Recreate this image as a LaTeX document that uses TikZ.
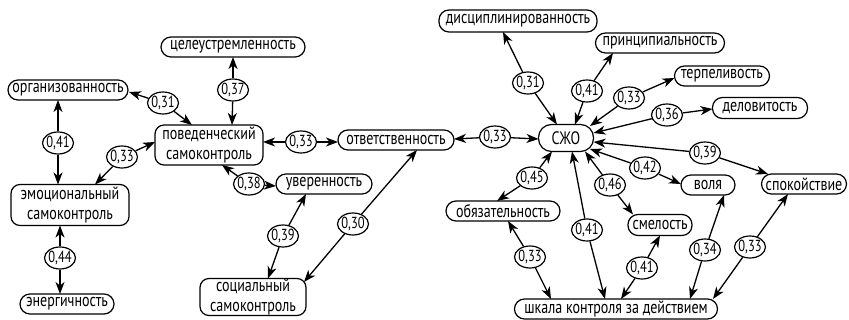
\documentclass[tikz,border=0pt]{standalone}
\usepackage{fontspec}
\setmainfont[FakeStretch=0.78]{PT Sans}
\usetikzlibrary{shapes.geometric,arrows.meta,calc}
\tikzset{
  box/.style={draw, line width=1.2pt, rectangle, rounded corners=10pt, inner sep=0pt,
    minimum height=20pt, align=center, font=\fontsize{18}{20}\selectfont},
  box2/.style={box, rounded corners=9pt},
  lab/.style={draw, line width=1.2pt, ellipse, inner sep=-2pt, minimum width=31pt,
    minimum height=22pt, font=\fontsize{16}{16}\selectfont},
  arr/.style={line width=1.3pt, -{Stealth[length=12pt,width=9pt,inset=3.5pt]}}
}
\newcommand\lnk[4]{\draw[arr] (#1) -- ($(#2)+(#3,#4)$);}
\begin{document}
\begin{tikzpicture}[x=1pt,y=-1pt]
\useasboundingbox (0,0) rectangle (849,320);
% boxes
\node[box, minimum width=144pt] (cel) at (233,47) {целеустремленность};
\node[box, minimum width=120pt] (org) at (68,90) {организованность};
\node[box2, minimum width=108pt, minimum height=40pt] (poved) at (209,145) {поведенческий\\самоконтроль};
\node[box, minimum width=116pt] (otv) at (396,140) {ответственность};
\node[box2, minimum width=118pt, minimum height=41pt] (emo) at (70,205) {эмоциональный\\самоконтроль};
\node[box, minimum width=94pt] (energ) at (67,304) {энергичность};
\node[box, minimum width=96pt] (uvr) at (324,184) {уверенность};
\node[box2, minimum width=106pt, minimum height=37pt] (soc) at (253,297) {социальный\\самоконтроль};
\node[box, minimum width=55pt, minimum height=27pt, rounded corners=13pt] (szho) at (566,138) {СЖО};
\node[box, minimum width=158pt, minimum height=22pt] (disc) at (518,21) {дисциплинированность};
\node[box, minimum width=129pt] (princ) at (660,43) {принципиальность};
\node[box, minimum width=95pt] (terp) at (722,76) {терпеливость};
\node[box, minimum width=95pt, minimum height=21pt] (delo) at (760,108) {деловитость};
\node[box, minimum width=54pt] (volya) at (708,185) {воля};
\node[box, minimum width=85pt] (spok) at (804,184) {спокойствие};
\node[box, minimum width=114pt] (obyaz) at (503,211) {обязательность};
\node[box, minimum width=64pt, minimum height=21pt] (smel) at (660,225) {смелость};
\node[box, minimum width=203pt] (shk) at (616,309) {шкала контроля за действием};
% labels
\node[lab] (l1) at (233,90) {0,37};
\node[lab] (l2) at (163,103) {0,31};
\node[lab] (l3) at (58,143) {0,41};
\node[lab] (l4) at (122,157) {0,33};
\node[lab] (l5) at (301,142) {0,33};
\node[lab] (l6) at (249,184) {0,38};
\node[lab] (l7) at (60,258) {0,44};
\node[lab] (l8) at (283,236) {0,39};
\node[lab] (l9) at (353,224) {0,30};
\node[lab] (l10) at (495,137) {0,33};
\node[lab] (l11) at (528,83) {0,31};
\node[lab] (l12) at (587,91) {0,41};
\node[lab] (l13) at (629,98) {0,33};
\node[lab] (l14) at (667,115) {0,36};
\node[lab] (l15) at (705,153) {0,39};
\node[lab] (l16) at (645,168) {0,42};
\node[lab] (l17) at (532,178) {0,45};
\node[lab] (l18) at (610,185) {0,46};
\node[lab] (l19) at (587,230) {0,41};
\node[lab] (l20) at (530,257) {0,33};
\node[lab] (l21) at (642,268) {0,41};
\node[lab] (l22) at (705,250) {0,34};
\node[lab] (l23) at (750,247) {0,33};
% connectors
\lnk{l1}{cel}{0}{10}   \lnk{l1}{poved}{23}{-20}
\lnk{l2}{org}{61}{2}   \lnk{l2}{poved}{-17}{-20}
\lnk{l3}{org}{-10}{10} \lnk{l3}{emo}{-12}{-20.5}
\lnk{l4}{poved}{-54}{-3} \lnk{l4}{emo}{25}{-20.5}
\lnk{l5}{poved}{54}{-3} \lnk{l5}{otv}{-58}{2}
\lnk{l6}{poved}{13}{20} \lnk{l6}{uvr}{-48}{2}
\lnk{l7}{emo}{-10}{20.5} \lnk{l7}{energ}{-7}{-10}
\lnk{l8}{uvr}{-18}{10} \lnk{l8}{soc}{15}{-18.5}
\lnk{l9}{otv}{21}{10} \lnk{l9}{soc}{51}{-15}
\lnk{l10}{otv}{58}{-1} \lnk{l10}{szho}{-27.5}{1}
\lnk{l11}{disc}{-15}{11} \lnk{l11}{szho}{-9}{-13.5}
\lnk{l12}{princ}{-47}{10} \lnk{l12}{szho}{9}{-13.5}
\lnk{l13}{terp}{-47.5}{2} \lnk{l13}{szho}{24}{-12}
\lnk{l14}{delo}{-47.5}{1} \lnk{l14}{szho}{27.5}{-5}
\lnk{l15}{szho}{27.5}{4} \lnk{l15}{spok}{-36}{-10}
\lnk{l16}{szho}{24}{11} \lnk{l16}{volya}{-27}{-1}
\lnk{l17}{szho}{-14}{13.5} \lnk{l17}{obyaz}{-6}{-10}
\lnk{l18}{szho}{19}{13.5} \lnk{l18}{smel}{-27}{-10.5}
\lnk{l19}{szho}{6}{13.5} \lnk{l19}{shk}{-11}{-10}
\lnk{l20}{obyaz}{5}{10} \lnk{l20}{shk}{-65}{-10}
\lnk{l21}{smel}{0}{10.5} \lnk{l21}{shk}{5}{-10}
\lnk{l22}{volya}{16}{10} \lnk{l22}{shk}{74}{-10}
\lnk{l23}{spok}{-16}{10} \lnk{l23}{shk}{97}{-10}
\end{tikzpicture}
\end{document}
